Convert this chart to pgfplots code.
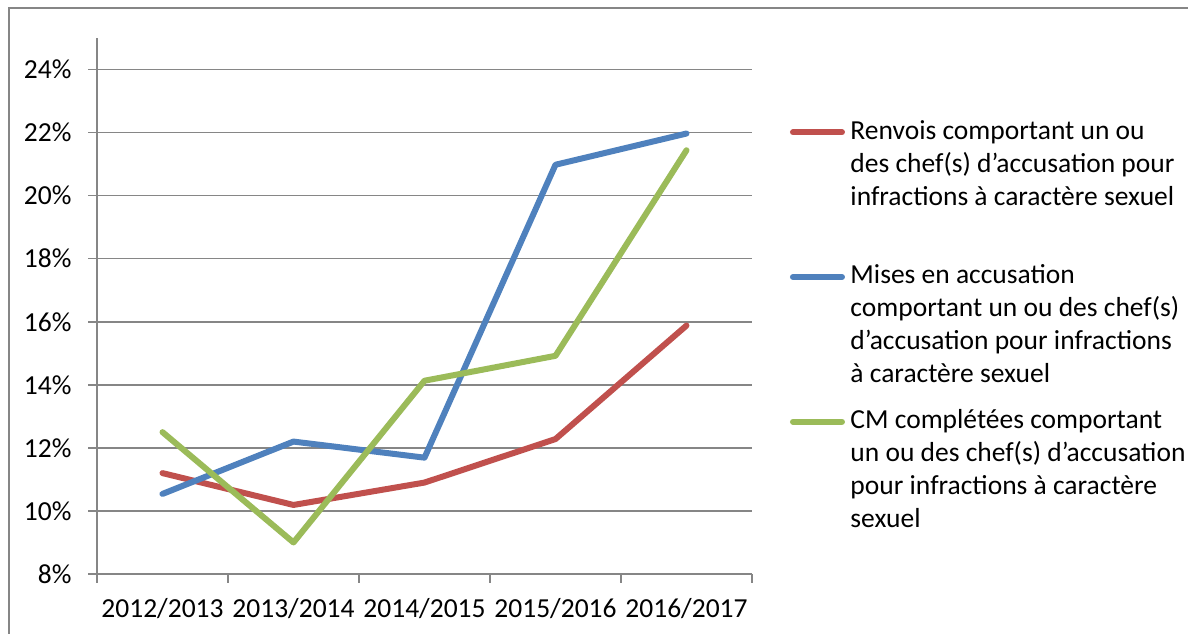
\documentclass[border=0pt]{standalone}
\usepackage{fontspec}
\setmainfont{Carlito}
\usepackage{pgfplots}
\pgfplotsset{compat=1.18}
\definecolor{xlred}{HTML}{C0504D}
\definecolor{xlblue}{HTML}{4F81BD}
\definecolor{xlgreen}{HTML}{9BBB59}
\definecolor{xlgrid}{HTML}{868686}
% legend text: first line sets the row height, the rest hangs below
\newcommand{\legtext}[1]{\raisebox{0pt}[9.24pt][0pt]{\parbox[t]{140pt}{\raggedright #1}}}

\begin{document}
\fontsize{11pt}{13.2pt}\selectfont
\begin{tikzpicture}
\path[use as bounding box] (0,0) rectangle (475.2pt,-253.6pt);
% chart frame (top and left edges only are visible)
\draw[xlgrid, line width=0.5pt] (3.6pt,-253.6pt) -- (3.6pt,-3.2pt) -- (475.2pt,-3.2pt);
\begin{axis}[
    at={(38.8pt,-229.6pt)}, anchor=south west,
    scale only axis,
    width=262pt, height=214.4pt,
    xmin=-0.5, xmax=4.5,
    ymin=8, ymax=25,
    axis x line*=bottom,
    axis y line*=left,
    axis line style={xlgrid, line width=0.6pt},
    xtick={-0.5,0.5,1.5,2.5,3.5,4.5},
    xticklabels={},
    extra x ticks={0,1,2,3,4},
    extra x tick labels={2012/2013,2013/2014,2014/2015,2015/2016,2016/2017},
    extra x tick style={major tick length=0pt},
    xticklabel style={anchor=base, inner sep=0pt, yshift=-17.2pt},
    ytick={8,10,...,24},
    yticklabel={\pgfmathprintnumber{\tick}\%},
    yticklabel style={anchor=east, inner sep=0pt, xshift=-6.6pt},
    /pgf/number format/assume math mode=true,
    tick align=outside,
    major tick length=3.4pt,
    tick style={xlgrid, line width=0.6pt},
    ymajorgrids=true,
    grid style={xlgrid, line width=0.6pt},
    legend style={at={(1.0534,0.854)}, anchor=north west, draw=none, fill=none,
        inner sep=0pt, outer sep=0pt, row sep=46.96pt, column sep=1.0pt,
        nodes={inner sep=0pt}},
    legend cell align=left,
    legend image code/.code={
        \path (0pt,0pt) (22pt,0pt);
        \draw[#1, line cap=round] (1.2pt,-1.0pt) -- (20.8pt,-1.0pt);
    },
]

\addplot[xlred, line width=2.4pt, line cap=round, line join=round]
    coordinates {(0,11.20) (1,10.19) (2,10.90) (3,12.28) (4,15.88)};
\addlegendentry{\legtext{Renvois comportant un ou\\des chef(s) d’accusation pour\\infractions à caractère sexuel}}

\addplot[xlblue, line width=2.4pt, line cap=round, line join=round]
    coordinates {(0,10.54) (1,12.20) (2,11.69) (3,20.98) (4,21.97)};
\addlegendentry{\legtext{Mises en accusation\\comportant un ou des chef(s)\\d’accusation pour infractions\\à caractère sexuel}}

\addplot[xlgreen, line width=2.4pt, line cap=round, line join=round]
    coordinates {(0,12.50) (1,9.00) (2,14.13) (3,14.92) (4,21.44)};
\addlegendentry{\legtext{CM complétées comportant\\un ou des chef(s) d’accusation\\pour infractions à caractère\\sexuel}}

\end{axis}
\end{tikzpicture}
\end{document}
